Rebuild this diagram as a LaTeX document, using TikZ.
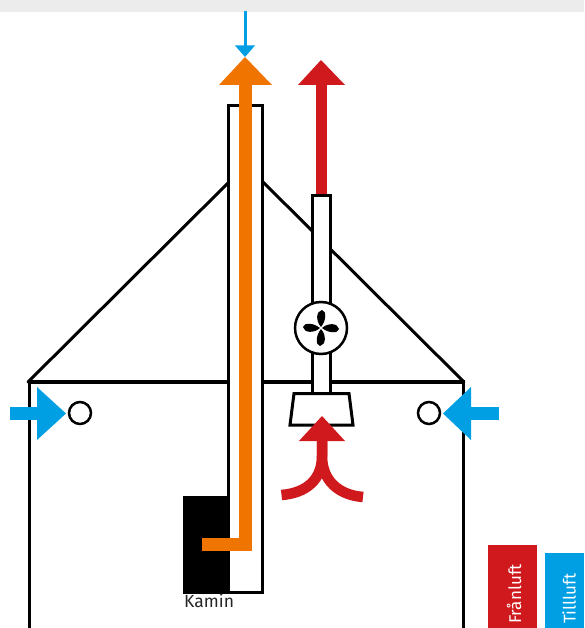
\documentclass[tikz,border=0pt]{standalone}
\usepackage{fontspec}
\setmainfont{Fira Sans}
\definecolor{cblue}{HTML}{009FE3}
\definecolor{cred}{HTML}{D0191C}
\definecolor{corange}{HTML}{F07400}
\definecolor{cgray}{HTML}{ECECEC}
\tikzset{
  wall/.style={draw=black,line width=3pt},
  flowred/.style={draw=cred,line width=10.5pt},
  tag/.style={rotate=90,text=white,font=\fontsize{17}{20}\selectfont,inner sep=0pt,anchor=west},
  hole/.style={circle,draw=black,line width=2.5pt,fill=white,minimum size=22pt,inner sep=0pt},
}
\begin{document}
\begin{tikzpicture}[x=1pt,y=-1pt]
\useasboundingbox (0,0) rectangle (584,628);
\fill[cgray] (0,0) rectangle (584,12);
% building
\draw[wall] (29,628) -- (29,382);
\draw[wall] (463,382) -- (463,628);
\draw[wall,line width=3.5pt] (27.5,382) -- (464.5,382);
\draw[wall,line cap=round] (28,382) -- (228,183);
\draw[wall,line cap=round] (262,181) -- (464,382);
% chimney
\draw[wall,fill=white] (228,105.5) rectangle (262,592);
\fill[black] (183,496) rectangle (229,594);
\fill[corange] (245,57) -- (272,85) -- (219,85) -- cycle;
\fill[corange] (238.5,85) rectangle (251.5,551);
\fill[corange] (202,538) rectangle (251.5,551);
\node[anchor=north west,inner sep=0pt,font=\fontsize{17.5}{20}\selectfont,text=black!85] (kamin) at (184,594) {Kamin};
% top blue arrow
\coordinate (bt) at (245,11);
\coordinate (bh) at (245,46);
\draw[cblue,line width=3pt] (bt) -- (bh);
\fill[cblue] (235,45.5) -- (255,45.5) -- (245,57) -- cycle;
% extract duct
\fill[cred] (321,60) -- (345,85) -- (298,85) -- cycle;
\fill[cred] (316,85) rectangle (326.5,196);
\draw[wall,fill=white] (312.5,195.5) rectangle (330,393);
\draw[wall,fill=white] (294,393.5) -- (349,393.5) -- (353,425) -- (290,425) -- cycle;
\node[circle,draw=black,line width=2.5pt,fill=white,minimum size=52pt,inner sep=0pt] (fan) at (321,328) {};
\foreach \a in {0,90,180,270}
  \fill[black,rotate around={\a:(321,328)}] (321,327) .. controls (315.5,321) and (316,311) .. (322,310) .. controls (327,311) and (326,321) .. (321,327) -- cycle;
% lower red arrow
\draw[flowred] (322,438) -- (322,456) .. controls (322,480) and (306,493) .. (281.5,495);
\draw[flowred] (322,438) -- (322,456) .. controls (322,480) and (338,495) .. (363,497);
\fill[cred] (322,416) -- (345,441) -- (299,441) -- cycle;
% intake holes
\node[hole] (hl) at (80,413) {};
\node[hole] (hr) at (429,413) {};
% side blue arrows
\fill[cblue] (10,407) rectangle (38,420);
\fill[cblue] (37,387) -- (66,413.5) -- (37,440) -- cycle;
\fill[cblue] (471,407) rectangle (499,420);
\fill[cblue] (471,387) -- (443,413.5) -- (471,440) -- cycle;
% legend
\fill[cred] (488,545) rectangle (537,628);
\fill[cblue] (545,553) rectangle (584,628);
\node[tag] (fr) at (514,624) {Frånluft};
\node[tag] (ti) at (569,624) {Tillluft};
\end{tikzpicture}
\end{document}
